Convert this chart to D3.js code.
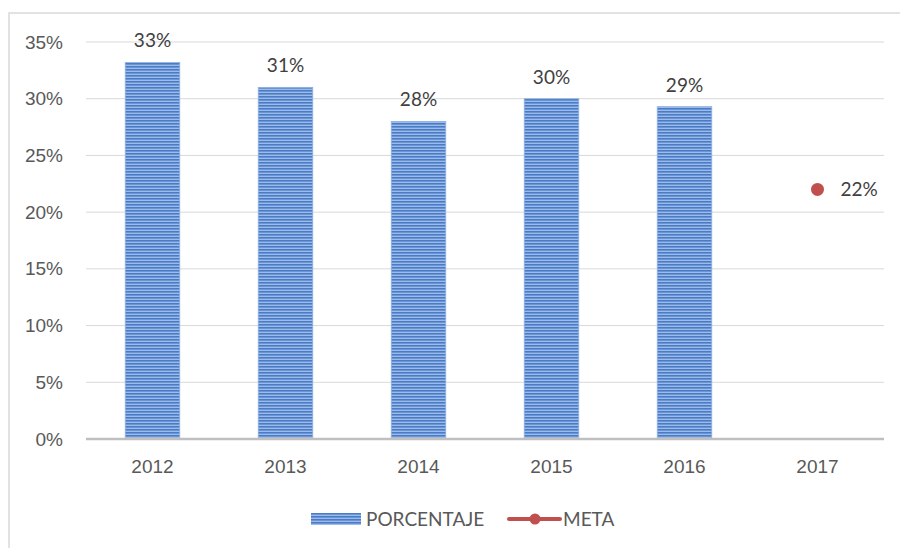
<!DOCTYPE html>
<html lang="es">
<head>
    <meta charset="UTF-8">
    <title>Porcentaje y meta</title>
    <script src="https://d3js.org/d3.v7.min.js"></script>
    <style>
        body { margin: 0; background: #ffffff; }
        svg { display: block; font-family: Lato, "Open Sans", sans-serif; }
        .tick text { fill: #595959; font-size: 19px; }
    </style>
</head>
<body>
    <svg id="chart" width="900" height="548"></svg>
    <script>
        // data
        const years = ["2012", "2013", "2014", "2015", "2016", "2017"];
        const porcentaje = [0.332, 0.310, 0.280, 0.300, 0.293, null];
        const meta = [null, null, null, null, null, 0.22];
        const yTicks = [0, 0.05, 0.10, 0.15, 0.20, 0.25, 0.30, 0.35];

        const svg = d3.select("#chart");
        const margin = { top: 42, right: 16, bottom: 109, left: 86 };
        const width = 900 - margin.left - margin.right;
        const height = 548 - margin.top - margin.bottom;

        // striped fill like the original bars
        const defs = svg.append("defs");
        const pat = defs.append("pattern")
            .attr("id", "stripes")
            .attr("patternUnits", "userSpaceOnUse")
            .attr("width", 8).attr("height", 3);
        pat.append("rect").attr("width", 8).attr("height", 3).attr("fill", "#9dbbe8");
        pat.append("rect").attr("y", 0).attr("width", 8).attr("height", 1.6).attr("fill", "#4a7bc6");

        // outer frame
        svg.append("rect")
            .attr("x", 9).attr("y", 13)
            .attr("width", 900).attr("height", 560)
            .attr("fill", "none")
            .attr("stroke", "#d9d9d9")
            .attr("stroke-width", 1.5);

        const g = svg.append("g").attr("transform", `translate(${margin.left},${margin.top})`);

        const x = d3.scaleBand().domain(years).range([0, width]).paddingInner(0.59).paddingOuter(0.295);
        const xc = d3.scaleBand().domain(years).range([0, width]);
        const y = d3.scaleLinear().domain([0, 0.35]).range([height, 0]);

        // gridlines
        g.append("g")
            .selectAll("line")
            .data(yTicks.filter(d => d > 0))
            .enter().append("line")
            .attr("x1", 0).attr("x2", width)
            .attr("y1", d => y(d)).attr("y2", d => y(d))
            .attr("stroke", "#d9d9d9")
            .attr("stroke-width", 1);

        // y axis labels
        const yAxis = d3.axisLeft(y).tickValues(yTicks).tickFormat(d3.format(".0%")).tickSize(0).tickPadding(23);
        g.append("g").call(yAxis).call(a => a.select(".domain").remove());

        // bars
        const barData = years.map((yr, i) => ({ year: yr, v: porcentaje[i] })).filter(d => d.v != null);
        g.selectAll(".bar")
            .data(barData)
            .enter().append("rect")
            .attr("class", "bar")
            .attr("x", d => x(d.year))
            .attr("y", d => y(d.v))
            .attr("width", x.bandwidth())
            .attr("height", d => height - y(d.v))
            .attr("fill", "url(#stripes)")
            .attr("stroke", "#8eb0e3")
            .attr("stroke-width", 0.8);

        g.selectAll(".bar-label")
            .data(barData)
            .enter().append("text")
            .attr("class", "bar-label")
            .attr("x", d => x(d.year) + x.bandwidth() / 2)
            .attr("y", d => y(d.v) - 15)
            .attr("text-anchor", "middle")
            .attr("fill", "#404040")
            .attr("font-size", 19)
            .text(d => d3.format(".0%")(d.v));

        // x axis
        const xAxis = d3.axisBottom(xc).tickSize(0).tickPadding(21);
        g.append("g").attr("transform", `translate(0,${height})`).call(xAxis)
            .call(a => a.select(".domain").remove());
        g.append("line")
            .attr("x1", 0).attr("x2", width)
            .attr("y1", height).attr("y2", height)
            .attr("stroke", "#bfbfbf")
            .attr("stroke-width", 2.5);

        // meta point
        const metaData = years.map((yr, i) => ({ year: yr, v: meta[i] })).filter(d => d.v != null);
        g.selectAll(".meta")
            .data(metaData)
            .enter().append("circle")
            .attr("cx", d => xc(d.year) + xc.bandwidth() / 2)
            .attr("cy", d => y(d.v))
            .attr("r", 6.5)
            .attr("fill", "#c0504d");
        g.selectAll(".meta-label")
            .data(metaData)
            .enter().append("text")
            .attr("x", d => xc(d.year) + xc.bandwidth() / 2 + 23)
            .attr("y", d => y(d.v))
            .attr("dy", "0.35em")
            .attr("fill", "#404040")
            .attr("font-size", 19)
            .text(d => d3.format(".0%")(d.v));

        // legend
        const lg = svg.append("g").attr("transform", "translate(311,519)");
        lg.append("rect").attr("x", 0).attr("y", -6).attr("width", 50).attr("height", 12)
            .attr("fill", "url(#stripes)");
        lg.append("text").attr("x", 55).attr("y", 0).attr("dy", "0.35em")
            .attr("fill", "#595959").attr("font-size", 19).text("PORCENTAJE");
        lg.append("line").attr("x1", 198).attr("x2", 249).attr("y1", 0).attr("y2", 0)
            .attr("stroke", "#c0504d").attr("stroke-width", 4).attr("stroke-linecap", "round");
        lg.append("circle").attr("cx", 224).attr("cy", 0).attr("r", 5.5).attr("fill", "#c0504d");
        lg.append("text").attr("x", 252).attr("y", 0).attr("dy", "0.35em")
            .attr("fill", "#595959").attr("font-size", 19).text("META");
    </script>
</body>
</html>
